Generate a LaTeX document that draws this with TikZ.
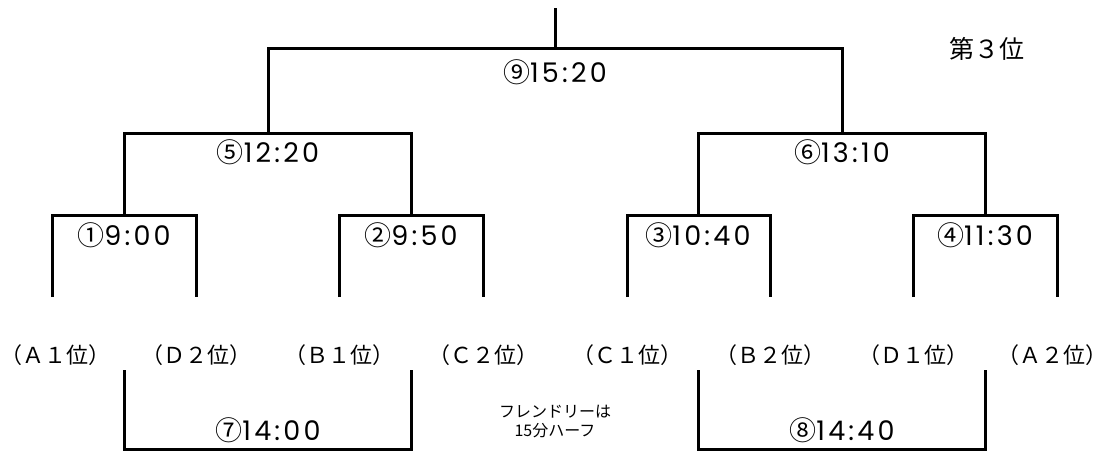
\documentclass[tikz,border=0pt]{standalone}
\usepackage{fontspec}
\usepackage{graphicx}
\setmainfont{Noto Sans CJK JP}
\newfontfamily\digitfont[Numbers=Monospaced,LetterSpace=12]{Poppins}
\newcommand{\tmlabel}[2]{#1{\digitfont #2}}
\tikzset{
  br/.style={line width=3pt, line join=miter, black},
  timelbl/.style={anchor=base, inner sep=0pt, font=\fontsize{27}{30}\selectfont},
  seedlbl/.style={anchor=base, inner sep=0pt, font=\fontsize{22}{24}\selectfont},
  notelbl/.style={anchor=center, inner sep=0pt, align=center, font=\fontsize{16}{19}\selectfont},
  placelbl/.style={anchor=base, inner sep=0pt, font=\fontsize{25}{28}\selectfont}
}
\begin{document}
\begin{tikzpicture}[x=1pt,y=-1pt]
\useasboundingbox (0,0) rectangle (1108,452);
% first round brackets
\draw[br] (52,297) -- (52,215) -- (196,215) -- (196,297);
\draw[br] (339,297) -- (339,215) -- (483,215) -- (483,297);
\draw[br] (627,297) -- (627,215) -- (770,215) -- (770,297);
\draw[br] (913,297) -- (913,215) -- (1057,215) -- (1057,297);
% semifinals
\draw[br] (124,215) -- (124,133) -- (411,133) -- (411,215);
\draw[br] (698,215) -- (698,133) -- (985,133) -- (985,215);
% final
\draw[br] (268,133) -- (268,49) -- (842,49) -- (842,133);
\draw[br] (555,49) -- (555,8);
% friendly brackets
\draw[br] (124,370) -- (124,449) -- (411,449) -- (411,370);
\draw[br] (698,370) -- (698,449) -- (985,449) -- (985,370);
% time labels
\node[timelbl] (m9) at (555,82) {\tmlabel{⑨}{15:20}};
\node[timelbl] (m5) at (268,162) {\tmlabel{⑤}{12:20}};
\node[timelbl] (m6) at (842,162) {\tmlabel{⑥}{13:10}};
\node[timelbl] (m1) at (124,245) {\tmlabel{①}{9:00}};
\node[timelbl] (m2) at (411,245) {\tmlabel{②}{9:50}};
\node[timelbl] (m3) at (698,245) {\tmlabel{③}{10:40}};
\node[timelbl] (m4) at (985,245) {\tmlabel{④}{11:30}};
\node[timelbl] (m7) at (268,440) {\tmlabel{⑦}{14:00}};
\node[timelbl] (m8) at (842,440) {\tmlabel{⑧}{14:40}};
% seeds
\node[seedlbl] (sa) at (56,363) {（Ａ１位）};
\node[seedlbl] (sb) at (196,363) {（Ｄ２位）};
\node[seedlbl] (sc) at (339,363) {（Ｂ１位）};
\node[seedlbl] (sd) at (483,363) {（Ｃ２位）};
\node[seedlbl] (se) at (627,363) {（Ｃ１位）};
\node[seedlbl] (sf) at (770,363) {（Ｂ２位）};
\node[seedlbl] (sg) at (913,363) {（Ｄ１位）};
\node[seedlbl] (sh) at (1052,363) {（Ａ２位）};
% notes
\node[notelbl] (note) at (555,422) {フレンドリーは\\15分ハーフ};
\node[placelbl] (third) at (987,59) {第３位};
\end{tikzpicture}
\end{document}
